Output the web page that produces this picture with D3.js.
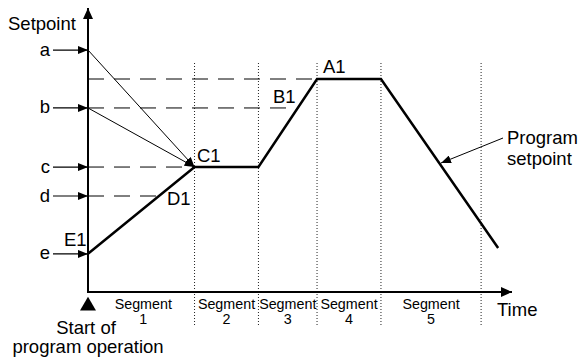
<!DOCTYPE html>
<html>
<head>
<meta charset="utf-8">
<script src="https://cdn.jsdelivr.net/npm/d3@7"></script>
<style>
  body { margin: 0; background: #fff; }
  text { font-family: "Liberation Sans", Arial, sans-serif; fill: #000; }
</style>
</head>
<body>
<script>
// program profile (time units, setpoint units)
const profileTime = [0, 10, 16, 21.5, 27.5, 38.5]
const profileValue = [13.5, 44, 44, 75, 75, 15.5]

// segment boundaries along time axis
const segmentEnds = [0, 10, 16, 21.5, 27.5, 36.9]
const segmentNames = ["1", "2", "3", "4", "5"]

// starting setpoints a..e
const startLabels = ["a", "b", "c", "d", "e"]
const startValues = [85.2, 64.8, 44, 33.8, 13.4]

// point labels
const pointNames = ["E1", "D1", "C1", "B1", "A1"]

const width = 579, height = 360

const svg = d3.select('body')
  .append('svg')
  .attr('width', width)
  .attr('height', height)

const x = d3.scaleLinear().domain([0, 39.8]).range([88, 512])
const y = d3.scaleLinear().domain([0, 100]).range([292, 8])

// markers
const defs = svg.append('defs')
function marker(id, w, h) {
  defs.append('marker')
    .attr('id', id)
    .attr('viewBox', `0 0 ${w} ${h}`)
    .attr('refX', w)
    .attr('refY', h / 2)
    .attr('markerWidth', w)
    .attr('markerHeight', h)
    .attr('markerUnits', 'userSpaceOnUse')
    .attr('orient', 'auto')
    .append('path')
    .attr('d', `M0,0L${w},${h / 2}L0,${h}Z`)
    .attr('fill', '#000')
}
marker('axisHead', 11, 10)
marker('inHead', 10, 8)
marker('thinHead', 10, 8)

// dotted segment boundaries
svg.selectAll('line.seg')
  .data(segmentEnds.slice(1))
  .join('line')
  .attr('class', 'seg')
  .attr('x1', d => x(d)).attr('x2', d => x(d))
  .attr('y1', 63).attr('y2', 325)
  .attr('stroke', '#222')
  .attr('stroke-width', 1)
  .attr('stroke-dasharray', '1,2')

// dashed guide lines
const guides = [
  { v: profileValue[3], t: profileTime[3] },   // A1 level
  { v: startValues[1], t: 19.0 },              // b level to B1
  { v: startValues[2], t: profileTime[1] },    // c level to C1
  { v: startValues[3], t: 6.8 }                // d level to D1
]
svg.selectAll('line.guide')
  .data(guides)
  .join('line')
  .attr('class', 'guide')
  .attr('x1', x(0)).attr('x2', d => x(d.t))
  .attr('y1', d => y(d.v)).attr('y2', d => y(d.v))
  .attr('stroke', '#000')
  .attr('stroke-width', 1)
  .attr('stroke-dasharray', '16,10')

// thin arrows from a and b to C1
svg.selectAll('line.conv')
  .data([startValues[0], startValues[1]])
  .join('line')
  .attr('class', 'conv')
  .attr('x1', x(0)).attr('y1', d => y(d))
  .attr('x2', x(profileTime[1])).attr('y2', y(profileValue[1]))
  .attr('stroke', '#000')
  .attr('stroke-width', 1)
  .attr('marker-end', 'url(#thinHead)')

// axes
svg.append('line')
  .attr('x1', x(0)).attr('y1', y(0))
  .attr('x2', x(0)).attr('y2', y(100))
  .attr('stroke', '#000').attr('stroke-width', 2)
  .attr('marker-end', 'url(#axisHead)')
svg.append('line')
  .attr('x1', x(0) - 1).attr('y1', y(0))
  .attr('x2', x(39.8)).attr('y2', y(0))
  .attr('stroke', '#000').attr('stroke-width', 2)
  .attr('marker-end', 'url(#axisHead)')

// program line
const line = d3.line().x(d => x(d[0])).y(d => y(d[1]))
svg.append('path')
  .datum(d3.zip(profileTime, profileValue))
  .attr('d', line)
  .attr('fill', 'none')
  .attr('stroke', '#000')
  .attr('stroke-width', 2.5)
  .attr('stroke-linejoin', 'miter')

// starting setpoint arrows + labels
startValues.forEach((v, i) => {
  svg.append('line')
    .attr('x1', 53).attr('y1', y(v))
    .attr('x2', x(0)).attr('y2', y(v))
    .attr('stroke', '#000').attr('stroke-width', 1.2)
    .attr('marker-end', 'url(#inHead)')
  svg.append('text')
    .attr('x', 50).attr('y', y(v) + 5.5)
    .attr('text-anchor', 'end')
    .attr('font-size', 18.5)
    .text(startLabels[i])
})

// axis titles
svg.append('text').attr('x', 8).attr('y', 30).attr('font-size', 18.5).text('Setpoint')
svg.append('text').attr('x', 497).attr('y', 316).attr('font-size', 18.5).text('Time')

// point labels
const pointPos = [[64, 246], [167, 205], [197, 162], [273, 103], [323, 73]]
pointNames.forEach((n, i) => {
  svg.append('text')
    .attr('x', pointPos[i][0]).attr('y', pointPos[i][1])
    .attr('font-size', 18.5)
    .text(n)
})

// program setpoint callout
svg.append('line')
  .attr('x1', 503).attr('y1', 138)
  .attr('x2', 441).attr('y2', 163)
  .attr('stroke', '#000').attr('stroke-width', 1)
  .attr('marker-end', 'url(#thinHead)')
svg.append('text').attr('x', 507).attr('y', 144).attr('font-size', 18.5).text('Program')
svg.append('text').attr('x', 507).attr('y', 165).attr('font-size', 18.5).text('setpoint')

// segment labels
segmentNames.forEach((n, i) => {
  const cx = (x(segmentEnds[i]) + x(segmentEnds[i + 1])) / 2 + (i === 0 ? 2 : 0)
  const t = svg.append('text')
    .attr('text-anchor', 'middle')
    .attr('font-size', 14.3)
  t.append('tspan').attr('x', cx).attr('y', 309).text('Segment')
  t.append('tspan').attr('x', cx).attr('y', 324).text(n)
})

// start marker
svg.append('path')
  .attr('d', d3.symbol(d3.symbolTriangle, 110))
  .attr('transform', `translate(${x(0)},306)`)
  .attr('fill', '#000')
svg.append('text').attr('x', x(0) - 2).attr('y', 334)
  .attr('text-anchor', 'middle').attr('font-size', 18.5).text('Start of')
svg.append('text').attr('x', x(0)).attr('y', 353)
  .attr('text-anchor', 'middle').attr('font-size', 18.5).text('program operation')
</script>
</body>
</html>
